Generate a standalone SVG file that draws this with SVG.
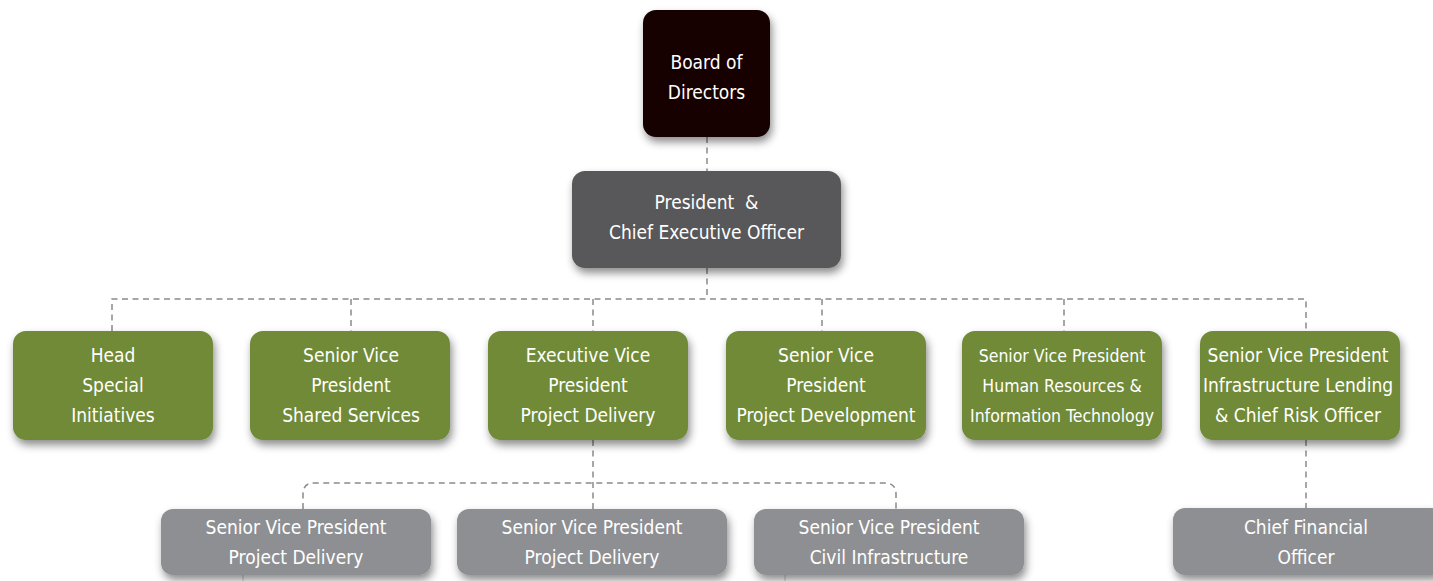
<svg xmlns="http://www.w3.org/2000/svg" width="1433" height="581" viewBox="0 0 1433 581">
  <style>
    .lbl { font-family: "Liberation Sans Narrow", "DejaVu Sans Condensed", "Liberation Sans", sans-serif; font-size: 19px; fill: #ffffff; text-anchor: middle; }
    .sm { font-size: 17.5px; }
    .board { fill: #130004; }
    .ceo { fill: #58585a; }
    .vp { fill: #6f8a38; }
    .sub { fill: #8e8f92; }
    .link { fill: none; stroke: #8a8a8a; stroke-width: 1.5; stroke-dasharray: 6 4.5; }
    .tail { fill: none; stroke: #c8c8c8; stroke-width: 1; }
  </style>
  <defs>
    <filter id="shadow" x="-20%" y="-20%" width="140%" height="160%">
      <feDropShadow dx="2" dy="5" stdDeviation="4.5" flood-color="#000" flood-opacity="0.45"/>
    </filter>
  </defs>
  <rect width="1433" height="581" fill="#ffffff"/>

  <g id="connectors">
    <path class="link" d="M707 137 V171"/>
    <path class="link" d="M707 268 V299"/>
    <path class="link" d="M112 331 V299 H1306 V331"/>
    <path class="link" d="M351 299 V331"/>
    <path class="link" d="M593 299 V331"/>
    <path class="link" d="M822 299 V331"/>
    <path class="link" d="M1064 299 V331"/>
    <path class="link" d="M593 440 V509"/>
    <path class="link" d="M303 509 V494 Q303 483 314 483 H885 Q896 483 896 494 V509"/>
    <path class="link" d="M1306 440 V509"/>
    <path class="tail" d="M243 575 V581"/>
    <path class="tail" d="M785 575 V581"/>
  </g>

  <g id="board">
    <rect class="board" x="643" y="10" width="127" height="127" rx="13" filter="url(#shadow)"/>
    <text class="lbl" x="706.5" y="69">Board of</text>
    <text class="lbl" x="706.5" y="99">Directors</text>
  </g>

  <g id="ceo">
    <rect class="ceo" x="572" y="171" width="269" height="97" rx="13" filter="url(#shadow)"/>
    <text class="lbl" x="706.5" y="209">President&#160; &amp;</text>
    <text class="lbl" x="706.5" y="239">Chief Executive Officer</text>
  </g>

  <g id="head-special">
    <rect class="vp" x="13" y="331" width="200" height="109" rx="13" filter="url(#shadow)"/>
    <text class="lbl" x="113" y="362">Head</text>
    <text class="lbl" x="113" y="392">Special</text>
    <text class="lbl" x="113" y="422">Initiatives</text>
  </g>

  <g id="svp-shared">
    <rect class="vp" x="250" y="331" width="200" height="109" rx="13" filter="url(#shadow)"/>
    <text class="lbl" x="351" y="362">Senior Vice</text>
    <text class="lbl" x="351" y="392">President</text>
    <text class="lbl" x="351" y="422">Shared Services</text>
  </g>

  <g id="evp-delivery">
    <rect class="vp" x="488" y="331" width="200" height="109" rx="13" filter="url(#shadow)"/>
    <text class="lbl" x="588" y="362">Executive Vice</text>
    <text class="lbl" x="588" y="392">President</text>
    <text class="lbl" x="588" y="422">Project Delivery</text>
  </g>

  <g id="svp-development">
    <rect class="vp" x="726" y="331" width="200" height="109" rx="13" filter="url(#shadow)"/>
    <text class="lbl" x="826" y="362">Senior Vice</text>
    <text class="lbl" x="826" y="392">President</text>
    <text class="lbl" x="826" y="422">Project Development</text>
  </g>

  <g id="svp-hr-it">
    <rect class="vp" x="962" y="331" width="200" height="109" rx="13" filter="url(#shadow)"/>
    <text class="lbl sm" x="1062" y="362">Senior Vice President</text>
    <text class="lbl sm" x="1062" y="392">Human Resources &amp;</text>
    <text class="lbl sm" x="1062" y="422">Information Technology</text>
  </g>

  <g id="svp-lending">
    <rect class="vp" x="1200" y="331" width="200" height="109" rx="13" filter="url(#shadow)"/>
    <text class="lbl" x="1298" y="362">Senior Vice President</text>
    <text class="lbl" x="1298" y="392">Infrastructure Lending</text>
    <text class="lbl" x="1298" y="422">&amp; Chief Risk Officer</text>
  </g>

  <g id="svp-delivery-1">
    <rect class="sub" x="161" y="509" width="270" height="66" rx="12" filter="url(#shadow)"/>
    <text class="lbl" x="296" y="534">Senior Vice President</text>
    <text class="lbl" x="296" y="564">Project Delivery</text>
  </g>

  <g id="svp-delivery-2">
    <rect class="sub" x="457" y="509" width="270" height="66" rx="12" filter="url(#shadow)"/>
    <text class="lbl" x="592" y="534">Senior Vice President</text>
    <text class="lbl" x="592" y="564">Project Delivery</text>
  </g>

  <g id="svp-civil">
    <rect class="sub" x="754" y="509" width="270" height="66" rx="12" filter="url(#shadow)"/>
    <text class="lbl" x="889" y="534">Senior Vice President</text>
    <text class="lbl" x="889" y="564">Civil Infrastructure</text>
  </g>

  <g id="cfo">
    <rect class="sub" x="1173" y="508" width="270" height="67" rx="12" filter="url(#shadow)"/>
    <text class="lbl" x="1306" y="534">Chief Financial</text>
    <text class="lbl" x="1306" y="564">Officer</text>
  </g>
</svg>
